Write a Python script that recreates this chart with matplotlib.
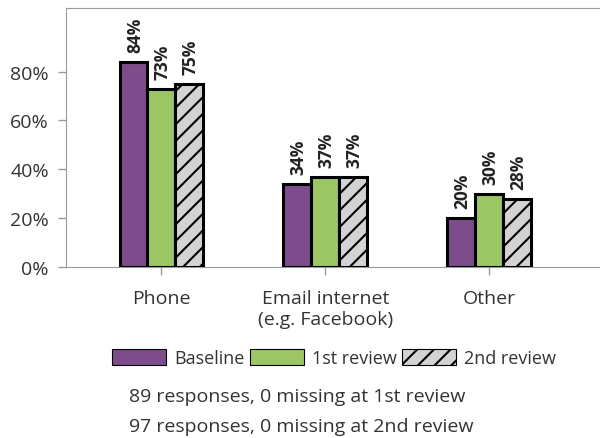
import matplotlib.pyplot as plt
import numpy as np
from matplotlib.patches import Patch

# data
categories = ["Phone", "Email internet\n(e.g. Facebook)", "Other"]
baseline = [84, 34, 20]
review_1 = [73, 37, 30]
review_2 = [75, 37, 28]
series_names = ["Baseline", "1st review", "2nd review"]
notes = ["89 responses, 0 missing at 1st review",
         "97 responses, 0 missing at 2nd review"]

plt.rcParams['font.family'] = ['Open Sans', 'DejaVu Sans']
plt.rcParams['hatch.linewidth'] = 1.5

PURPLE = "#7d4c8a"
GREEN = "#9cc563"
GREY = "#d3d3d5"
FRAME = "#9a9a9a"
TXT = "#333333"

fig = plt.figure(figsize=(6, 4.39), dpi=100)
ax = fig.add_axes([65.5 / 600, 1 - 268 / 439, 1 - 65.5 / 600, 259 / 439])

x = np.arange(len(categories))
w = 0.17
styles = [
    dict(color=PURPLE),
    dict(color=GREEN),
    dict(color=GREY, hatch="//"),
]
for i, (vals, st) in enumerate(zip([baseline, review_1, review_2], styles)):
    pos = x + (i - 1) * w
    ax.bar(pos, vals, width=w, edgecolor="black", linewidth=2.2, zorder=3, **st)
    for px, v in zip(pos, vals):
        ax.annotate(f"{v}%", (px, v), xytext=(1, 7), textcoords="offset points",
                    rotation=90, ha="center", va="bottom", fontsize=12.5,
                    fontweight="bold", color="#222222")

ax.set_xlim(-0.585, 2.677)
ax.set_ylim(0, 106)
ax.set_yticks([0, 20, 40, 60, 80])
ax.set_yticklabels([f"{t}%" for t in [0, 20, 40, 60, 80]])
ax.set_xticks(x)
ax.set_xticklabels(categories)
ax.tick_params(axis="both", colors=FRAME, length=6, width=1, labelsize=14, labelcolor=TXT)
ax.tick_params(axis="x", pad=10)
ax.tick_params(axis="y", pad=6)
for s in ["left", "top", "bottom"]:
    ax.spines[s].set_color(FRAME)
ax.spines["right"].set_visible(False)

handles = [
    Patch(facecolor=PURPLE, edgecolor="black", linewidth=0.8),
    Patch(facecolor=GREEN, edgecolor="black", linewidth=0.8),
    Patch(facecolor=GREY, edgecolor="black", linewidth=0.8, hatch="//"),
]
fig.legend(handles, series_names, loc="center", bbox_to_anchor=(334 / 600, 1 - 359 / 439),
           ncol=3, frameon=False, fontsize=13, handlelength=3.0, handleheight=1.05,
           handletextpad=0.45, columnspacing=0.3, labelcolor=TXT)

for k, note in enumerate(notes):
    fig.text(129 / 600, 1 - (397 + 30 * k) / 439, note, ha="left", va="center",
             fontsize=14, color=TXT)

fig.savefig("out.png", dpi=100)
